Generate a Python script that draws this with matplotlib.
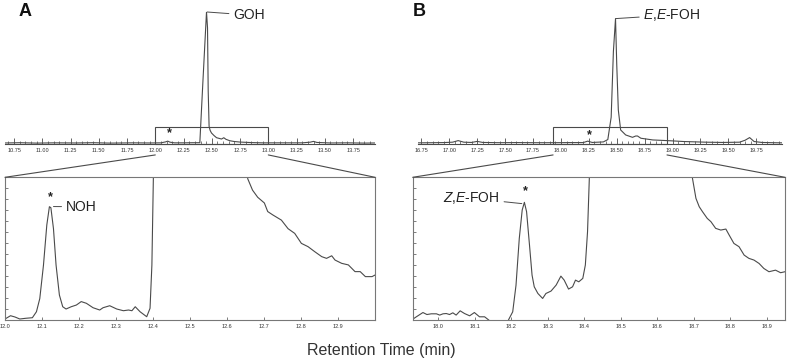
import numpy as np
import matplotlib
matplotlib.use('Agg')
import matplotlib.pyplot as plt
from matplotlib.patches import Rectangle, ConnectionPatch
from matplotlib.ticker import MultipleLocator

plt.rcParams['font.family'] = ['Liberation Sans', 'DejaVu Sans']
plt.rcParams['mathtext.fontset'] = 'custom'
plt.rcParams['mathtext.rm'] = 'Liberation Sans'
plt.rcParams['mathtext.it'] = 'Liberation Sans:italic'

# ---- data (retention time in min, intensity in % of the main peak) ----
# panel A, full trace (GOH)
a_full_t = [10.67, 10.80, 10.95, 11.10, 11.30, 11.45, 11.60, 11.80, 11.95, 12.05, 12.09, 12.11,
            12.13, 12.17, 12.25, 12.33, 12.394, 12.42, 12.453, 12.462, 12.468, 12.476, 12.485,
            12.497, 12.52, 12.542, 12.586, 12.606, 12.625, 12.659, 12.70, 12.748, 12.85, 12.95,
            13.10, 13.30, 13.37, 13.40, 13.43, 13.55, 13.70, 13.85, 13.944]
a_full_i = [0.4, 0.6, 0.3, 0.5, 0.4, 0.6, 0.3, 0.5, 0.4, 0.5, 1.2, 1.8,
            1.0, 0.5, 0.5, 0.6, 0.6, 45, 100, 88, 40, 13, 10,
            8, 6, 4.4, 3.4, 4.4, 3.2, 2.1, 1.5, 1.1, 0.7, 0.5,
            0.5, 0.5, 1.0, 1.6, 0.8, 0.4, 0.5, 0.3, 0.4]

# panel B, full trace (E,E-FOH)
b_full_t = [16.72, 16.85, 16.95, 17.03, 17.08, 17.13, 17.20, 17.25, 17.30, 17.45, 17.60, 17.75,
            17.90, 18.10, 18.20, 18.24, 18.28, 18.38, 18.42, 18.45, 18.47, 18.489, 18.50, 18.514,
            18.535, 18.58, 18.641, 18.67, 18.686, 18.716, 18.823, 18.975, 19.10, 19.30, 19.45,
            19.60, 19.65, 19.69, 19.73, 19.80, 19.90, 19.98]
b_full_i = [0.5, 0.6, 0.7, 1.0, 2.2, 1.0, 0.8, 1.6, 0.8, 0.6, 0.7, 0.6,
            0.6, 0.7, 0.7, 1.8, 0.8, 1.2, 3, 20, 70, 95, 60, 25.5,
            10.3, 6.5, 4.7, 5.7, 5.7, 4.0, 2.7, 2.1, 1.5, 1.0, 0.8,
            1.0, 2.5, 4.5, 1.5, 0.8, 0.6, 0.5]

# panel A, zoomed trace (NOH)
a_zoom_t = [12.0, 12.015, 12.027, 12.04, 12.056, 12.074, 12.085, 12.094, 12.104, 12.113, 12.12,
            12.124, 12.131, 12.138, 12.147, 12.156, 12.165, 12.179, 12.193, 12.206, 12.22, 12.238,
            12.256, 12.265, 12.283, 12.302, 12.32, 12.334, 12.343, 12.352, 12.365, 12.383, 12.392,
            12.397, 12.401, 12.404, 12.45, 12.60, 12.651, 12.656, 12.669, 12.683, 12.701, 12.71,
            12.724, 12.747, 12.765, 12.783, 12.801, 12.819, 12.837, 12.856, 12.869, 12.883, 12.892,
            12.91, 12.928, 12.946, 12.96, 12.974, 12.992, 13.0]
a_zoom_i = [0.7, 3.0, 2.1, 0.7, 1.2, 1.6, 5.8, 15, 38.5, 66.6, 79.4,
            78.7, 64, 38.5, 17.5, 9.3, 7.7, 9.3, 10.5, 12.9, 11.7, 8.6,
            7.0, 8.6, 10.0, 7.7, 6.5, 7.0, 6.5, 9.3, 5.8, 2.3, 8.2,
            38.5, 100, 130, 1000, 1000, 120, 99, 91, 86, 82, 76,
            73.6, 70, 64, 60.7, 53.7, 51.4, 47.9, 44.4, 43.2, 45, 42,
            39.7, 38.6, 33.9, 33.9, 30.4, 30.4, 31.5]

# panel B, zoomed trace (Z,E-FOH)
b_zoom_t = [17.929, 17.94, 17.958, 17.969, 17.981, 17.995, 18.004, 18.013, 18.022, 18.031, 18.04,
            18.049, 18.06, 18.072, 18.086, 18.099, 18.113, 18.127, 18.139, 18.15, 18.186, 18.193,
            18.204, 18.213, 18.222, 18.23, 18.236, 18.242, 18.25, 18.257, 18.263, 18.273, 18.286,
            18.295, 18.309, 18.323, 18.336, 18.345, 18.357, 18.368, 18.376, 18.385, 18.396, 18.403,
            18.409, 18.414, 18.417, 18.50, 18.65, 18.692, 18.696, 18.706, 18.715, 18.724, 18.737,
            18.747, 18.76, 18.774, 18.788, 18.797, 18.81, 18.824, 18.838, 18.851, 18.865, 18.879,
            18.892, 18.906, 18.924, 18.938, 18.95]
b_zoom_i = [0, 1.9, 4.9, 3.5, 4.0, 4.0, 3.1, 4.0, 4.2, 3.5, 4.7,
            3.1, 6.1, 4.2, 2.6, 4.9, 1.9, 1.9, -0.5, -4, -4, 0,
            5.4, 24, 57, 77, 82.4, 75.8, 52.3, 31.2, 23, 18.3, 14.8,
            18.3, 20, 24.2, 30.5, 27.7, 21.4, 23, 27.7, 26.5, 28.9, 38.3,
            61.7, 100, 132, 1000, 1000, 132, 100, 85.2, 79.3, 75.8, 71.1,
            68.8, 64.1, 62.9, 63.6, 59.4, 53.5, 51.2, 45.3, 43, 41.8, 39.4,
            35.9, 33.6, 34.7, 32.9, 33.6]

a_window = (12.0, 13.0)
b_window = (17.93, 18.95)
a_full_ticks = [10.75, 11.00, 11.25, 11.50, 11.75, 12.00, 12.25, 12.50, 12.75, 13.00, 13.25, 13.50, 13.75]
b_full_ticks = [16.75, 17.00, 17.25, 17.50, 17.75, 18.00, 18.25, 18.50, 18.75, 19.00, 19.25, 19.50, 19.75]
a_zoom_ticks = [12.0, 12.1, 12.2, 12.3, 12.4, 12.5, 12.6, 12.7, 12.8, 12.9]
b_zoom_ticks = [18.0, 18.1, 18.2, 18.3, 18.4, 18.5, 18.6, 18.7, 18.8, 18.9]

line_col = '#4a4a4a'
W, H = 787, 362


def px_axes(left, top, right, bottom):
    return [left / W, (H - bottom) / H, (right - left) / W, (bottom - top) / H]


fig = plt.figure(figsize=(W / 100, H / 100), dpi=100, facecolor='white')

ax_a = fig.add_axes(px_axes(5, 12, 375, 143.5))
ax_b = fig.add_axes(px_axes(418, 12, 782, 143.5))
ax_az = fig.add_axes(px_axes(5, 177.3, 375, 320))
ax_bz = fig.add_axes(px_axes(412.7, 177.3, 785, 319.5))

tick_font = dict(family=['Liberation Sans Narrow', 'Liberation Sans', 'DejaVu Sans'], size=4)


def setup_full(ax, t, i, xlim, ticks, window):
    ax.plot(t, i, color=line_col, lw=0.8)
    ax.set_ylim(0, 100)
    for s in ['left', 'right', 'top']:
        ax.spines[s].set_visible(False)
    ax.spines['bottom'].set_color(line_col)
    ax.spines['bottom'].set_linewidth(0.8)
    ax.set_yticks([])
    ax.xaxis.set_minor_locator(MultipleLocator(0.05))
    ax.tick_params(axis='x', which='major', direction='in', length=4, width=0.6, color=line_col, pad=3)
    ax.tick_params(axis='x', which='minor', direction='in', length=2, width=0.5, color=line_col)
    ax.set_xticks(ticks)
    ax.set_xticklabels(['%.2f' % v for v in ticks], fontdict=tick_font, color='#333333')
    ax.set_xlim(*xlim)
    ax.add_patch(Rectangle((window[0], 0), window[1] - window[0], 12.5, fill=False,
                           ec=line_col, lw=0.8, clip_on=False))
    ax.patch.set_alpha(0)


def setup_zoom(ax, t, i, ticks, window):
    ax.plot(t, i, color=line_col, lw=0.8)
    ax.set_ylim(0, 100)
    for s in ax.spines.values():
        s.set_color('#777777')
        s.set_linewidth(0.8)
    ax.yaxis.set_major_locator(MultipleLocator(7.7))
    ax.tick_params(axis='x', direction='in', length=2, width=0.5, color=line_col, pad=3)
    ax.tick_params(axis='y', direction='in', length=2, width=0.5, color=line_col, labelleft=False)
    ax.set_xticks(ticks)
    ax.set_xticklabels(['%.1f' % v for v in ticks], fontdict=tick_font, color='#333333')
    ax.set_xlim(*window)


setup_full(ax_a, a_full_t, a_full_i, (10.67, 13.944), a_full_ticks, a_window)
setup_full(ax_b, b_full_t, b_full_i, (16.72, 19.98), b_full_ticks, b_window)
setup_zoom(ax_az, a_zoom_t, a_zoom_i, a_zoom_ticks, a_window)
setup_zoom(ax_bz, b_zoom_t, b_zoom_i, b_zoom_ticks, b_window)

# connectors from the boxed window to the zoomed panels
for top, bot, window in [(ax_a, ax_az, a_window), (ax_b, ax_bz, b_window)]:
    for k, xb in enumerate(window):
        con = ConnectionPatch(xyA=(xb, -0.087), coordsA=top.get_xaxis_transform(),
                              xyB=(k, 1), coordsB=bot.transAxes, color=line_col, lw=0.8)
        fig.add_artist(con)

lab = dict(fontsize=10, color='#222222', va='center')
arr = dict(arrowstyle='-', color=line_col, lw=0.7, shrinkA=1, shrinkB=0)
ax_a.annotate('GOH', xy=(12.458, 100), xytext=(12.688, 97.7), ha='left', arrowprops=arr,
              annotation_clip=False, **lab)
ax_b.annotate(r'$\mathit{E}$,$\mathit{E}$-FOH', xy=(18.492, 95), xytext=(18.738, 97.7), ha='left',
              arrowprops=arr, annotation_clip=False, **lab)
ax_az.annotate('NOH', xy=(12.131, 79.5), xytext=(12.164, 79.4), ha='left', arrowprops=arr, **lab)
ax_bz.annotate(r'$\mathit{Z}$,$\mathit{E}$-FOH', xy=(18.229, 81.5), xytext=(18.169, 85.2), ha='right',
               arrowprops=arr, **lab)

star = dict(fontsize=9, fontweight='bold', ha='center', va='center', color='#222222')
ax_a.text(12.121, 7.5, '*', **star)
ax_b.text(18.252, 6.6, '*', **star)
ax_az.text(12.1235, 86, '*', **star)
ax_bz.text(18.238, 90, '*', **star)

fig.text(19 / W, 1 - 11 / H, 'A', fontsize=13, fontweight='bold', ha='left', va='center', color='#111111')
fig.text(412.7 / W, 1 - 11 / H, 'B', fontsize=13, fontweight='bold', ha='left', va='center', color='#111111')
fig.text(381 / W, 1 - 350 / H, 'Retention Time (min)', fontsize=11.5, ha='center', va='center',
         color='#333333')

fig.savefig('out.png', dpi=100, facecolor='white')
